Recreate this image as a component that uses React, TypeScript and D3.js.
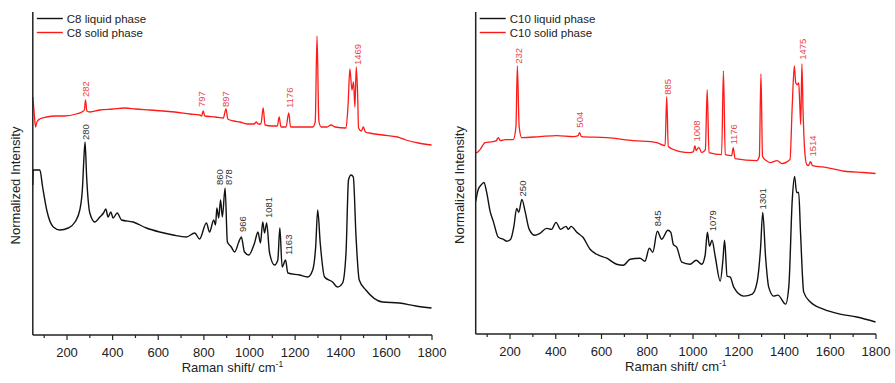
import React from "react";
import * as d3 from "d3";

type Pt = [number, number];

// ---- Data (Raman shift cm^-1, normalized intensity a.u.) ----
const c8Liquid: Pt[] = [[50,150],[52,165],[67,165],[81,165],[93,148],[111,125],[140,108],[169,105],[205,107],[235,113],[256,125],[268,148],[273,172],[279,193],[286,158],[300,122],[322,113],[344,118],[360,122],[370,126],[380,118],[392,123],[402,117],[420,122],[439,115],[490,113],[548,107],[606,103],[665,100],[723,98],[760,102],[781,96],[811,112],[825,103],[843,115],[851,110],[857,127],[865,117],[873,135],[881,118],[893,147],[903,93],[920,88],[935,83],[953,93],[964,98],[978,83],[997,80],[1022,92],[1037,103],[1048,92],[1058,113],[1066,102],[1075,112],[1088,82],[1110,70],[1124,75],[1133,107],[1143,68],[1158,75],[1168,62],[1219,60],[1255,58],[1277,65],[1290,88],[1299,125],[1310,92],[1329,58],[1364,53],[1386,48],[1408,52],[1423,82],[1434,155],[1445,160],[1455,158],[1467,98],[1481,55],[1510,45],[1583,33],[1656,32],[1729,29],[1798,27]];
const c8Solid: Pt[] = [[50,238],[55,225],[62,208],[68,213],[80,216],[110,218],[150,219],[190,219],[240,221],[265,223],[276,225],[281,235],[287,224],[300,223],[344,225],[400,226],[454,227],[500,226],[563,225],[620,224],[673,223],[740,221],[782,220],[790,219],[797,224],[804,219],[850,218],[885,217],[897,226],[905,216],[930,214],[957,213],[990,211],[1020,211],[1030,213],[1038,211],[1050,211],[1060,227],[1068,210],[1100,209],[1122,209],[1130,218],[1138,208],[1160,208],[1172,222],[1180,208],[1220,208],[1277,208],[1288,213],[1296,299],[1304,214],[1314,208],[1340,208],[1357,210],[1375,208],[1423,207],[1432,230],[1440,266],[1449,245],[1456,253],[1462,228],[1468,268],[1474,240],[1478,207],[1490,204],[1499,208],[1508,203],[1525,202],[1583,200],[1649,198],[1686,195],[1740,192],[1798,190]];
const c10Liquid: Pt[] = [[50,133],[61,145],[76,150],[86,152],[98,142],[113,123],[127,113],[149,97],[171,95],[186,93],[203,95],[217,108],[229,126],[238,122],[252,135],[266,123],[284,105],[309,99],[331,101],[360,106],[382,105],[401,112],[421,105],[445,108],[455,105],[467,108],[492,102],[519,97],[550,85],[579,80],[623,76],[666,70],[695,69],[725,75],[768,76],[790,73],[809,86],[824,82],[844,103],[863,95],[890,104],[903,102],[914,90],[929,87],[951,72],[987,70],[1014,74],[1038,70],[1053,79],[1063,102],[1072,88],[1083,94],[1097,78],[1119,53],[1131,75],[1138,94],[1149,58],[1163,57],[1178,47],[1222,38],[1259,40],[1281,53],[1295,85],[1305,122],[1317,78],[1331,47],[1353,38],[1371,39],[1405,30],[1419,48],[1434,135],[1444,158],[1453,142],[1462,142],[1470,102],[1484,42],[1513,32],[1570,25],[1643,20],[1716,17],[1798,12]];
const c10Solid: Pt[] = [[50,182],[54,182],[69,185],[91,192],[127,193],[140,194],[149,197],[158,194],[180,195],[214,195],[226,208],[232,269],[240,208],[251,197],[331,198],[404,199],[477,198],[498,199],[504,202],[512,198],[623,197],[739,194],[841,192],[878,189],[885,238],[892,188],[943,183],[987,182],[1002,183],[1008,189],[1014,184],[1020,186],[1026,187],[1038,182],[1054,185],[1062,245],[1070,182],[1125,180],[1133,264],[1141,180],[1169,179],[1176,187],[1184,176],[1279,174],[1290,178],[1297,261],[1304,178],[1320,174],[1337,172],[1368,174],[1388,171],[1424,175],[1434,230],[1443,269],[1449,252],[1456,250],[1462,252],[1466,235],[1471,210],[1476,271],[1481,225],[1488,185],[1497,170],[1505,169],[1514,173],[1522,169],[1585,167],[1672,163],[1745,162],[1798,161]];

// peak labels: [shift position, base intensity, text]
const c8SolidLabels: [number, number, string][] = [[283,238,"282"],[790,228,"797"],[895,228,"897"],[1175,227,"1176"],[1472,270,"1469"]];
const c8LiquidLabels: [number, number, string][] = [[283,195,"280"],[869,150,"860"],[908,150,"878"],[970,103,"966"],[1083,117,"1081"],[1171,80,"1163"]];
const c10SolidLabels: [number, number, string][] = [[239,271,"232"],[506,207,"504"],[889,240,"885"],[1016,193,"1008"],[1179,190,"1176"],[1480,275,"1475"],[1522,178,"1514"]];
const c10LiquidLabels: [number, number, string][] = [[257,138,"250"],[847,108,"845"],[1088,103,"1079"],[1306,125,"1301"]];

const majorTicks = [200, 400, 600, 800, 1000, 1200, 1400, 1600, 1800];
const minorTicks = [100, 300, 500, 700, 900, 1100, 1300, 1500, 1700];
const xDomain: [number, number] = [50, 1800];
const yDomain: [number, number] = [0, 323];

const RED = "#ff1a1a";
const RED_TEXT = "#e8474c";
const BLACK = "#111";
const FONT = "Arial, 'Liberation Sans', Helvetica, sans-serif";

interface PanelProps {
  x0: number; x1: number; yBottom: number; yTop: number;
  liquid: Pt[]; solid: Pt[];
  liquidLabels: [number, number, string][]; solidLabels: [number, number, string][];
  liquidName: string; solidName: string; yLabelX: number;
}

function Panel(p: PanelProps) {
  const x = d3.scaleLinear().domain(xDomain).range([p.x0, p.x1]);
  const y = d3.scaleLinear().domain(yDomain).range([p.yBottom, p.yTop]);
  const line = d3.line<Pt>().x(d => x(d[0])).y(d => y(d[1])).curve(d3.curveMonotoneX);
  const lx = p.x0 + 4;
  return (
    <g fontFamily={FONT}>
      <path d={line(p.solid) || ""} fill="none" stroke={RED} strokeWidth={1.3} />
      <path d={line(p.liquid) || ""} fill="none" stroke={BLACK} strokeWidth={1.4} />
      {p.solidLabels.map(([v, h, t]) => (
        <text key={"s" + t} transform={`translate(${x(v)},${y(h)}) rotate(-90)`} dy="0.35em" fontSize={9.5} fill={RED_TEXT}>{t}</text>
      ))}
      {p.liquidLabels.map(([v, h, t]) => (
        <text key={"l" + t} transform={`translate(${x(v)},${y(h)}) rotate(-90)`} dy="0.35em" fontSize={9.5} fill="#333">{t}</text>
      ))}
      {/* axes */}
      <line x1={p.x0} x2={p.x0} y1={p.yTop} y2={p.yBottom} stroke="#222" strokeWidth={1.5} />
      <line x1={p.x0} x2={p.x1} y1={p.yBottom} y2={p.yBottom} stroke="#222" strokeWidth={1.5} />
      {majorTicks.map(t => (
        <g key={"M" + t}>
          <line x1={x(t)} x2={x(t)} y1={p.yBottom} y2={p.yBottom + 5} stroke="#222" strokeWidth={1.2} />
          <text x={x(t)} y={p.yBottom + 22} textAnchor="middle" fontSize={13} fill="#222">{t}</text>
        </g>
      ))}
      {minorTicks.map(t => (
        <line key={"m" + t} x1={x(t)} x2={x(t)} y1={p.yBottom} y2={p.yBottom + 3} stroke="#222" strokeWidth={1.2} />
      ))}
      <text x={(p.x0 + p.x1) / 2} y={p.yBottom + 37} textAnchor="middle" fontSize={13} fill="#222">
        Raman shift/ cm<tspan dy={-5} fontSize={8.5}>-1</tspan>
      </text>
      <text transform={`translate(${p.yLabelX},${(p.yTop + p.yBottom) / 2 + 12}) rotate(-90)`} textAnchor="middle" dy="0.35em" fontSize={13} fill="#222">Normalized Intensity</text>
      {/* legend */}
      <line x1={lx} x2={lx + 26} y1={18.5} y2={18.5} stroke={BLACK} strokeWidth={1.4} />
      <text x={lx + 30} y={18.5} dy="0.35em" fontSize={11.5} fill="#222">{p.liquidName}</text>
      <line x1={lx} x2={lx + 26} y1={32.5} y2={32.5} stroke={RED} strokeWidth={1.4} />
      <text x={lx + 30} y={32.5} dy="0.35em" fontSize={11.5} fill="#222">{p.solidName}</text>
    </g>
  );
}

export default function App() {
  return (
    <svg width={895} height={383} style={{ position: "absolute", left: 0, top: 0, background: "#fff" }}>
      <rect width={895} height={383} fill="#fff" />
      <Panel x0={32.8} x1={432} yBottom={335} yTop={12} liquid={c8Liquid} solid={c8Solid}
        liquidLabels={c8LiquidLabels} solidLabels={c8SolidLabels}
        liquidName="C8 liquid phase" solidName="C8 solid phase" yLabelX={15} />
      <Panel x0={475.7} x1={876} yBottom={334} yTop={12} liquid={c10Liquid} solid={c10Solid}
        liquidLabels={c10LiquidLabels} solidLabels={c10SolidLabels}
        liquidName="C10 liquid phase" solidName="C10 solid phase" yLabelX={459} />
    </svg>
  );
}
